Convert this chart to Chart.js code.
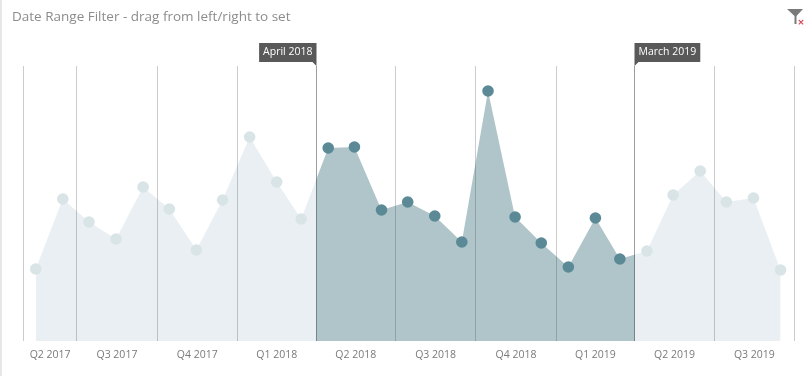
<!DOCTYPE html>
<html><head><meta charset="utf-8">
<style>
html,body{margin:0;padding:0;background:#fff;overflow:hidden}
#wrap{position:relative;width:811px;height:376px}
#edge{position:absolute;left:0;top:0;width:2px;height:376px;background:#e6e6e6}
canvas{position:absolute;left:0;top:0}
</style>
<script src="https://cdn.jsdelivr.net/npm/chart.js@4"></script>
</head><body><div id="wrap"><canvas id="c" width="811" height="376"></canvas><div id="edge"></div></div>
<script>
const titleText = 'Date Range Filter - drag from left/right to set';
const months = ['2017-05','2017-06','2017-07','2017-08','2017-09','2017-10','2017-11','2017-12',
  '2018-01','2018-02','2018-03','2018-04','2018-05','2018-06','2018-07','2018-08','2018-09','2018-10','2018-11','2018-12',
  '2019-01','2019-02','2019-03','2019-04','2019-05','2019-06','2019-07','2019-08','2019-09'];
const values = [72,142,119,102,154,132,91,141,204,159,122,193,194,131,139,125,99,250,124,98,74,123,82,90,146,170,139,143,71];
const quarterLabels = ['Q2 2017','Q3 2017','Q4 2017','Q1 2018','Q2 2018','Q3 2018','Q4 2018','Q1 2019','Q2 2019','Q3 2019'];
const quarterStarts = ['2017-05','2017-07','2017-10','2018-01','2018-04','2018-07','2018-10','2019-01','2019-04','2019-07','2019-10'];
const rangeStartMonth = '2018-04';
const rangeEndMonth = '2019-03';
const rangeStartLabel = 'April 2018';
const rangeEndLabel = 'March 2019';

const COL = {paleFill:'#e9eff2', darkFill:'#afc5ca', paleDot:'#d9e4e7', darkDot:'#5b8a96'};
const FONT = '"Open Sans", sans-serif';
const DAY = 86400000;

function monthStart(m){const [y,mo]=m.split('-').map(Number);return Date.UTC(y,mo-1,1);}
function monthEnd(m){const [y,mo]=m.split('-').map(Number);return Date.UTC(y,mo,1);}
function monthMid(m){return monthStart(m)+14*DAY;}

const xMin = monthStart(quarterStarts[0]);
const xMax = monthStart(quarterStarts[quarterStarts.length-1]);
const rangeLo = monthStart(rangeStartMonth);
const rangeHi = monthEnd(rangeEndMonth);
const boundaries = quarterStarts.map(monthStart);
const centers = quarterLabels.map((_,i)=>(boundaries[i]+boundaries[i+1])/2);
const points = months.map((m,i)=>({x:monthMid(m),y:values[i]}));
const inRange = i => points[i].x>rangeLo && points[i].x<rangeHi;

function areaFill(ctx){
  const ch = ctx.chart, xs = ch.scales.x, a = ch.chartArea;
  if(!a || !xs) return COL.paleFill;
  const g = ch.ctx.createLinearGradient(a.left,0,a.right,0);
  const w = a.right-a.left;
  const p1 = (xs.getPixelForValue(rangeLo)-a.left)/w, p2 = (xs.getPixelForValue(rangeHi)-a.left)/w;
  g.addColorStop(0,COL.paleFill); g.addColorStop(p1,COL.paleFill);
  g.addColorStop(p1,COL.darkFill); g.addColorStop(p2,COL.darkFill);
  g.addColorStop(p2,COL.paleFill); g.addColorStop(1,COL.paleFill);
  return g;
}

const decor = {
  id:'decor',
  afterDraw(ch){
    const c = ch.ctx, xs = ch.scales.x;
    c.save();
    c.textBaseline='middle';
    // title
    c.font='13.5px '+FONT; c.fillStyle='#8c8c8c'; c.textAlign='left';
    c.fillText(titleText,12,17.5);
    // flags
    c.font='10.5px '+FONT;
    const top=43,h=19;
    const x1=Math.round(xs.getPixelForValue(rangeLo))+0.5, x2=Math.round(xs.getPixelForValue(rangeHi))-0.5;
    const w1=c.measureText(rangeStartLabel).width+8, w2=c.measureText(rangeEndLabel).width+8;
    c.fillStyle='#595959';
    c.beginPath();c.moveTo(x1-w1,top);c.lineTo(x1,top);c.lineTo(x1,top+h+4);c.lineTo(x1-4,top+h);c.lineTo(x1-w1,top+h);c.closePath();c.fill();
    c.beginPath();c.moveTo(x2,top);c.lineTo(x2+w2,top);c.lineTo(x2+w2,top+h);c.lineTo(x2+4,top+h);c.lineTo(x2,top+h+4);c.closePath();c.fill();
    c.fillStyle='#ffffff'; c.textAlign='center';
    c.fillText(rangeStartLabel,x1-w1/2,top+h/2);
    c.fillText(rangeEndLabel,x2+w2/2,top+h/2);
    // clear-filter icon
    c.fillStyle='#7a7a7a';
    c.beginPath();c.moveTo(787,9);c.lineTo(803,9);c.lineTo(796.5,16);c.lineTo(796.5,24);c.lineTo(794.5,24);c.lineTo(794.5,16);c.closePath();c.fill();
    c.strokeStyle='#d9505f';c.lineWidth=1.2;
    c.beginPath();c.moveTo(798.8,20);c.lineTo(803.2,24.4);c.moveTo(803.2,20);c.lineTo(798.8,24.4);c.stroke();
    c.restore();
  }
};

new Chart(document.getElementById('c'),{
  type:'line',
  data:{datasets:[{
    data:points,
    parsing:false,
    fill:'origin',
    backgroundColor:areaFill,
    borderWidth:0,
    borderColor:'transparent',
    tension:0,
    pointRadius:5.8,
    pointHoverRadius:5.8,
    pointBorderWidth:0,
    pointBackgroundColor:ctx=>inRange(ctx.dataIndex)?COL.darkDot:COL.paleDot
  }]},
  options:{
    responsive:false,animation:false,
    events:[],
    layout:{padding:{left:23.5,right:16.5,top:66,bottom:14}},
    plugins:{legend:{display:false},tooltip:{enabled:false},title:{display:false}},
    scales:{
      y:{display:false,min:0,max:275},
      x:{type:'linear',position:'bottom',min:xMin,max:xMax,weight:1,
        afterBuildTicks(a){a.ticks=boundaries.map(v=>({value:v}));},
        afterFit(a){a.height=0;},
        ticks:{display:false},
        border:{display:false},
        grid:{z:1,drawTicks:false,lineWidth:1,
          color:ctx=>(ctx.tick&&(ctx.tick.value===rangeLo||ctx.tick.value===rangeHi))?'rgba(70,80,85,0.55)':'rgba(60,70,75,0.27)'}},
      x2:{type:'linear',position:'bottom',min:xMin,max:xMax,weight:2,
        afterBuildTicks(a){a.ticks=centers.map(v=>({value:v}));},
        afterFit(a){a.height=21;},
        grid:{display:false,drawTicks:false},border:{display:false},
        ticks:{autoSkip:false,maxRotation:0,minRotation:0,padding:8,color:'#7a7a7a',
          font:{family:'"Open Sans", sans-serif',size:10.5},
          callback:(v)=>quarterLabels[centers.indexOf(v)]}}
    }
  },
  plugins:[decor]
});
</script></body></html>
